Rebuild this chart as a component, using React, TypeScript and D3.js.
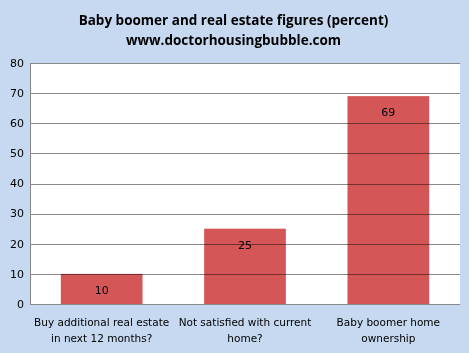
import React from "react";
import * as d3 from "d3";

const categories = [
  ["Buy additional real estate", "in next 12 months?"],
  ["Not satisfied with current", "home?"],
  ["Baby boomer home", "ownership"],
];
const values = [10, 25, 69];
const yTicks = [0, 10, 20, 30, 40, 50, 60, 70, 80];
const titleLines = [
  "Baby boomer and real estate figures (percent)",
  "www.doctorhousingbubble.com",
];

const W = 469;
const H = 353;
const margin = { top: 63, right: 9, bottom: 49, left: 30 };

const App = () => {
  const innerW = W - margin.left - margin.right;
  const innerH = H - margin.top - margin.bottom;

  const x = d3
    .scaleBand<number>()
    .domain(values.map((_, i) => i))
    .range([0, innerW])
    .paddingInner(0.43)
    .paddingOuter(0.215);

  const y = d3.scaleLinear().domain([0, 80]).range([innerH, 0]);

  const font = "'DejaVu Sans', Tahoma, sans-serif";

  return (
    <svg
      width={W}
      height={H}
      style={{ position: "absolute", left: 0, top: 0, background: "#c6d9f1" }}
    >
      <rect x={0} y={0} width={W} height={H} fill="#c6d9f1" />
      {titleLines.map((t, i) => (
        <text
          key={i}
          x={W / 2 - 1}
          y={25 + i * 20}
          textAnchor="middle"
          fontFamily="'Open Sans', sans-serif"
          fontWeight="bold"
          fontSize={13.5}
          fill="#000"
        >
          {t}
        </text>
      ))}
      <g transform={`translate(${margin.left},${margin.top})`}>
        <rect x={0} y={0} width={innerW} height={innerH} fill="#fff" />
        {values.map((v, i) => (
          <rect
            key={i}
            x={x(i)}
            y={y(v)}
            width={x.bandwidth()}
            height={innerH - y(v)}
            fill="#d55657"
          />
        ))}
        {yTicks
          .filter((t) => t > 0)
          .map((t) => (
            <line
              key={t}
              x1={0}
              x2={innerW}
              y1={Math.round(y(t)) + 0.5}
              y2={Math.round(y(t)) + 0.5}
              stroke="#8a8a8a"
              style={{ mixBlendMode: "multiply" }}
            />
          ))}
        <line x1={0.5} x2={0.5} y1={0} y2={innerH} stroke="#8a8a8a" />
        <line
          x1={0}
          x2={innerW}
          y1={innerH + 0.5}
          y2={innerH + 0.5}
          stroke="#8a8a8a"
        />
        {yTicks.map((t) => (
          <text
            key={t}
            x={-6}
            y={y(t)}
            dy="0.35em"
            textAnchor="end"
            fontFamily={font}
            fontSize={11}
            fill="#000"
          >
            {t}
          </text>
        ))}
        {values.map((v, i) => (
          <text
            key={i}
            x={(x(i) ?? 0) + x.bandwidth() / 2}
            y={y(v) + 16}
            dy="0.35em"
            textAnchor="middle"
            fontFamily={font}
            fontSize={11}
            fill="#000"
          >
            {v}
          </text>
        ))}
        {categories.map((lines, i) => (
          <text
            key={i}
            x={(x(i) ?? 0) + x.bandwidth() / 2}
            textAnchor="middle"
            fontFamily={font}
            fontSize={10.5}
            fill="#000"
          >
            {lines.map((l, j) => (
              <tspan key={j} x={(x(i) ?? 0) + x.bandwidth() / 2} y={innerH + 22 + j * 16}>
                {l}
              </tspan>
            ))}
          </text>
        ))}
      </g>
    </svg>
  );
};

export default App;
